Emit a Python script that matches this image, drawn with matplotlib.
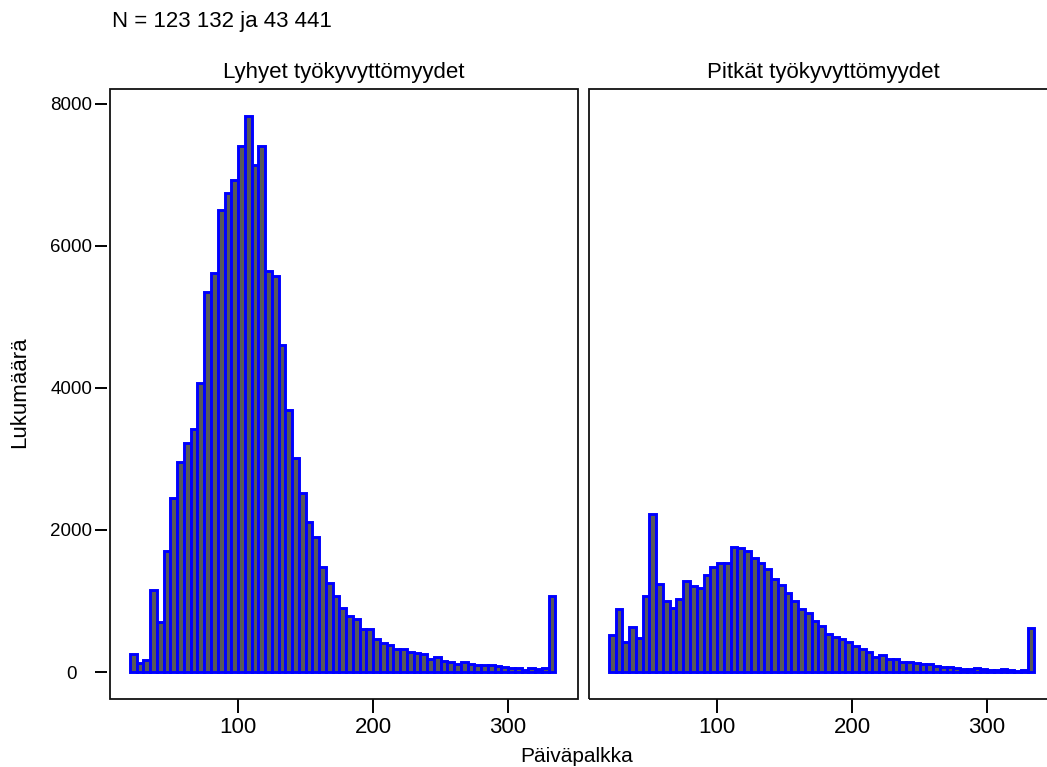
import numpy as np
import matplotlib.pyplot as plt
from matplotlib.patches import Rectangle

plt.rcParams['font.family'] = ['Liberation Sans', 'DejaVu Sans']

# Histogram bins (width 5, from 20 up to 335)
bin_width = 5
bin_left = np.arange(20, 335, bin_width)

# Counts per bin
short_counts = [250, 120, 170, 1150, 700, 1700, 2450, 2960, 3220, 3420,
                4070, 5350, 5620, 6500, 6740, 6930, 7410, 7830, 7140, 7400,
                5650, 5580, 4610, 3690, 3010, 2520, 2110, 1905, 1480, 1250,
                1070, 900, 790, 740, 610, 610, 460, 413, 380, 319,
                319, 286, 263, 249, 183, 216, 160, 145, 113, 145,
                113, 98, 98, 98, 84, 75, 61, 52, 28, 52,
                38, 61, 1070]
long_counts = [520, 882, 427, 638, 483, 1074, 2218, 1238, 999, 896,
               1022, 1280, 1210, 1177, 1365, 1482, 1538, 1538, 1754, 1745,
               1707, 1600, 1529, 1450, 1309, 1224, 1107, 1004, 882, 825,
               722, 647, 535, 488, 464, 422, 366, 328, 281, 216,
               239, 188, 178, 145, 141, 122, 113, 108, 89, 75,
               66, 61, 42, 47, 52, 38, 28, 28, 42, 28,
               19, 28, 614]

panel_titles = ['Lyhyet työkyvyttömyydet', 'Pitkät työkyvyttömyydet']
x_ticks = [100, 200, 300]
y_ticks = [0, 2000, 4000, 6000, 8000]

W, H = 1047, 767
fig = plt.figure(figsize=(W / 100, H / 100), dpi=100)

# panel boxes in pixels: left, right edge; top, bottom
bottom_px, top_px = 699, 89
panels = [(110, 578), (589, 1057)]

fs = 16
for i, (counts, title) in enumerate(zip([short_counts, long_counts], panel_titles)):
    x0, x1 = panels[i]
    ax = fig.add_axes([x0 / W, 1 - bottom_px / H, (x1 - x0) / W, (bottom_px - top_px) / H])
    ax.bar(bin_left, counts, width=bin_width, align='edge',
           color='#595959', edgecolor='#0000ff', linewidth=2.1)
    ax.set_xlim(5.2, 351.8)
    ax.set_ylim(-380, 8207)
    for s in ax.spines.values():
        s.set_visible(False)
    # box round the panel (right one runs off the figure edge)
    ax.add_patch(Rectangle((0, 0), 1, 1, transform=ax.transAxes, fill=False,
                           lw=1.3, ec='#111111', clip_on=False, zorder=5))
    ax.set_xticks(x_ticks)
    ax.tick_params(axis='x', direction='out', length=10, width=1.4,
                   labelsize=fs, pad=3)
    if i == 0:
        ax.spines['left'].set_position(('outward', 2))
        ax.set_yticks(y_ticks)
        ax.tick_params(axis='y', direction='out', length=9, width=1.4,
                       labelsize=13.5, pad=17)
        for lab in ax.get_yticklabels():
            lab.set_ha('center')
    else:
        ax.set_yticks([])
    ax.set_title(title, fontsize=fs, pad=8)

fig.text(112 / W, 1 - 22 / H, 'N = 123 132 ja 43 441', fontsize=fs,
         ha='left', va='center')
fig.text(577 / W, 1 - 757 / H, 'Päiväpalkka', fontsize=15,
         ha='center', va='center')
fig.text(20 / W, 1 - 392 / H, 'Lukumäärä', fontsize=fs,
         ha='center', va='center', rotation=90)

fig.savefig('out.png', dpi=100)
